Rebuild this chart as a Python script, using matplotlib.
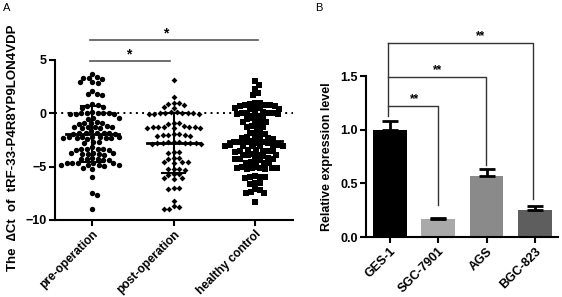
import numpy as np
import matplotlib
matplotlib.use('Agg')
import matplotlib.pyplot as plt

plt.rcParams['font.family'] = ['Liberation Sans', 'DejaVu Sans']
plt.rcParams['font.weight'] = 'bold'

# panel A: delta Ct values per group
groups = ['pre-operation', 'post-operation', 'healthy control']
pre_op = [3.7, 3.4, 3.3, 3.3, 3.2, 2.9, 2.9, 2.8, 2.1, 1.8, 1.8, 1.7, 0.9, 0.8, 0.7, 0.6, 0.5,
          0.0, 0.0, 0.0, -0.1, -0.1, 0.0, 0.1, 0.0, -0.1,
          -0.4, -0.5, -0.4,
          -0.9, -0.9, -0.8, -1.0, -0.9,
          -1.3, -1.4, -1.2, -1.3, -1.4, -1.3, -1.3,
          -1.8, -1.8, -1.9, -1.7, -1.8, -1.8, -1.9, -1.8,
          -2.2, -2.3, -2.2, -2.3, -2.2, -2.3, -2.2, -2.3, -2.4, -2.2,
          -2.7, -2.8, -2.7,
          -3.3, -3.4, -3.3, -3.3, -3.4, -3.3, -3.2,
          -3.7, -3.8, -3.7, -3.8, -3.9, -3.7, -3.8,
          -4.3, -4.2, -4.4, -4.3, -4.3, -4.4,
          -4.7, -4.7, -4.8, -4.7, -4.8, -4.7, -4.8, -4.7, -4.9, -4.8,
          -5.1, -5.2, -6.0, -7.5, -7.7, -9.0]
post_op = [3.1, 1.5, 1.0, 1.0, 0.9, 0.8, 0.6, 0.5,
           0.1, 0.0, -0.1, 0.0, 0.0, -0.1, 0.1, 0.0, -0.1, 0.0,
           -0.9, -0.9, -1.0,
           -1.3, -1.4, -1.3, -1.3, -1.4, -1.3, -1.2, -1.4, -1.3,
           -1.9, -2.0, -2.1, -1.9, -2.0, -2.1, -2.0,
           -2.8, -2.7, -2.8, -2.9, -2.8, -2.7, -2.8, -2.9, -2.8, -2.7,
           -3.6, -3.6, -3.7,
           -4.2, -4.2, -4.3,
           -4.6, -4.6, -4.7, -4.6,
           -5.2, -5.2, -5.3, -5.2,
           -5.7, -5.7, -5.8,
           -6.1, -6.2, -6.1,
           -7.0, -7.0, -7.1,
           -8.2, -8.7, -8.8, -9.0, -9.0]
healthy = [3.0, 2.7, 2.3, 1.9, 1.7, 1.0, 1.0, 0.9,
           0.8, 0.7, 0.8, 0.7, 0.8,
           0.5, 0.4, 0.5, 0.4, 0.5,
           0.0, 0.0, -0.1, 0.0, 0.1, 0.0, -0.1, 0.0,
           -0.4, -0.4, -0.5, -0.4,
           -0.8, -0.8, -0.9, -0.8,
           -1.3, -1.3, -1.2, -1.3,
           -1.8, -1.8, -1.9, -1.8,
           -2.3, -2.3, -2.2, -2.3, -2.4, -2.3,
           -2.7, -2.7, -2.8, -2.7, -2.6, -2.7, -2.8,
           -3.1, -3.1, -3.0, -3.1, -3.0, -3.1, -3.0, -3.1,
           -3.5, -3.5, -3.4, -3.5, -3.6, -3.5, -3.4,
           -3.9, -3.9, -4.0, -3.9, -3.8, -3.9,
           -4.3, -4.3, -4.4, -4.3, -4.2, -4.3,
           -4.7, -4.7, -4.8, -4.7, -4.6,
           -5.1, -5.1, -5.2, -5.1, -5.0, -5.1, -5.2, -5.1,
           -6.0, -5.9, -6.0, -6.1, -6.0,
           -6.5, -6.5, -6.6,
           -7.1, -7.2,
           -7.5, -7.4, -7.5,
           -8.3]

# panel B: relative expression
cells = ['GES-1', 'SGC-7901', 'AGS', 'BGC-823']
expr = [1.0, 0.17, 0.57, 0.25]
expr_err = [0.08, 0.005, 0.06, 0.04]
bar_colors = ['#000000', '#a9a9a9', '#8a8a8a', '#5e5e5e']


def swarm(vals, px_x, px_y, d):
    # simple greedy beeswarm in pixel space
    vals = np.asarray(vals)
    offs = np.zeros(len(vals))
    placed = []
    cands = [0.0]
    for k in np.arange(0.5, 60, 0.5):
        cands += [k, -k]
    for i in np.argsort(vals)[::-1]:
        y = vals[i] * px_y
        for c in cands:
            if all((c - px) ** 2 + (y - py) ** 2 >= d * d for px, py in placed):
                break
        placed.append((c, y))
        offs[i] = c / px_x
    return offs


fig = plt.figure(figsize=(5.62, 2.97), dpi=100)

# ---- panel A
axA = fig.add_axes([55 / 562, 1 - 220 / 297, 238 / 562, 160 / 297])
px_x = 81.0
px_y = 160 / 15.0
styles = [('o', 15, 5.4), ('D', 9, 5.2), ('s', 15, 5.0)]
for i, vals in enumerate([pre_op, post_op, healthy]):
    vals = np.array(vals)
    m, s, d = styles[i]
    offs = swarm(vals, px_x, px_y, d)
    axA.scatter(i + offs, vals, marker=m, s=s, c='black', linewidths=0, zorder=3)
    mu, sd = vals.mean(), vals.std(ddof=1)
    axA.plot([i - 0.33, i + 0.33], [mu, mu], color='black', lw=2, zorder=4)
    axA.plot([i, i], [mu - sd, mu + sd], color='black', lw=1.5, zorder=4)
    for yy in (mu - sd, mu + sd):
        axA.plot([i - 0.14, i + 0.14], [yy, yy], color='black', lw=1.5, zorder=4)

axA.axhline(0, color='black', ls=(0, (1, 2.2)), lw=1.4, zorder=2)
axA.set_xlim(-0.46, 2.47)
axA.set_ylim(-10, 5)
axA.set_yticks([-10, -5, 0, 5])
axA.set_xticks(range(3))
axA.set_xticklabels(groups, rotation=45, ha='right', rotation_mode='anchor')
for sp in ['top', 'right']:
    axA.spines[sp].set_visible(False)
for sp in ['left', 'bottom']:
    axA.spines[sp].set_linewidth(1.5)
axA.tick_params(length=4, width=1.5, labelsize=9, pad=2)
axA.tick_params(axis='x', labelsize=8.6)

axA.plot([-0.03, 2.04], [6.9, 6.9], color='#555555', lw=1.2, clip_on=False)
axA.text(0.9, 7.5, '*', ha='center', va='center', fontsize=10)
axA.plot([-0.03, 0.96], [4.9, 4.9], color='#555555', lw=1.2, clip_on=False)
axA.text(0.45, 5.5, '*', ha='center', va='center', fontsize=10)

fig.text(13 / 562, 1 - 148 / 297, 'The  \u2206Ct  of  tRF-33-P4R8YP9LON4VDP',
         rotation=90, ha='center', va='center', fontsize=9.5)
fig.text(3 / 562, 1 - 3 / 297, 'A', ha='left', va='top', fontsize=8, weight='normal')

# ---- panel B
axB = fig.add_axes([366 / 562, 1 - 237 / 297, 192 / 562, 161 / 297])
x = np.arange(len(cells))
axB.bar(x, expr, width=0.7, color=bar_colors, zorder=2)
axB.errorbar(x, expr, yerr=[np.zeros(len(cells)), expr_err], fmt='none',
             ecolor='black', elinewidth=2, capsize=6, capthick=2, zorder=3)
axB.set_xlim(-0.5, 3.48)
axB.set_ylim(0, 1.5)
axB.set_yticks([0, 0.5, 1.0, 1.5])
axB.set_yticklabels(['0.0', '0.5', '1.0', '1.5'])
axB.set_xticks(x)
axB.set_xticklabels(cells, rotation=45, ha='right', rotation_mode='anchor')
for sp in ['top', 'right']:
    axB.spines[sp].set_visible(False)
for sp in ['left', 'bottom']:
    axB.spines[sp].set_linewidth(1.5)
axB.tick_params(length=4, width=1.5, labelsize=9, pad=2)

bk = '#333333'
axB.plot([-0.04, -0.04], [1.13, 1.81], color=bk, lw=1, clip_on=False)
brackets = [(0.99, 1.22, 0.30, 0.5, 1.28),
            (1.99, 1.49, 0.67, 0.99, 1.55),
            (2.96, 1.81, 0.35, 1.88, 1.87)]
for xr, yt, yb, xs, ys in brackets:
    axB.plot([-0.04, xr, xr], [yt, yt, yb], color=bk, lw=1, clip_on=False)
    axB.text(xs, ys, '**', ha='center', va='center', fontsize=8.5)

fig.text(327 / 562, 1 - 157 / 297, 'Relative expression level', rotation=90,
         ha='center', va='center', fontsize=9)
fig.text(315 / 562, 1 - 3 / 297, 'B', ha='left', va='top', fontsize=8, weight='normal')

fig.savefig('out.png', dpi=100)
